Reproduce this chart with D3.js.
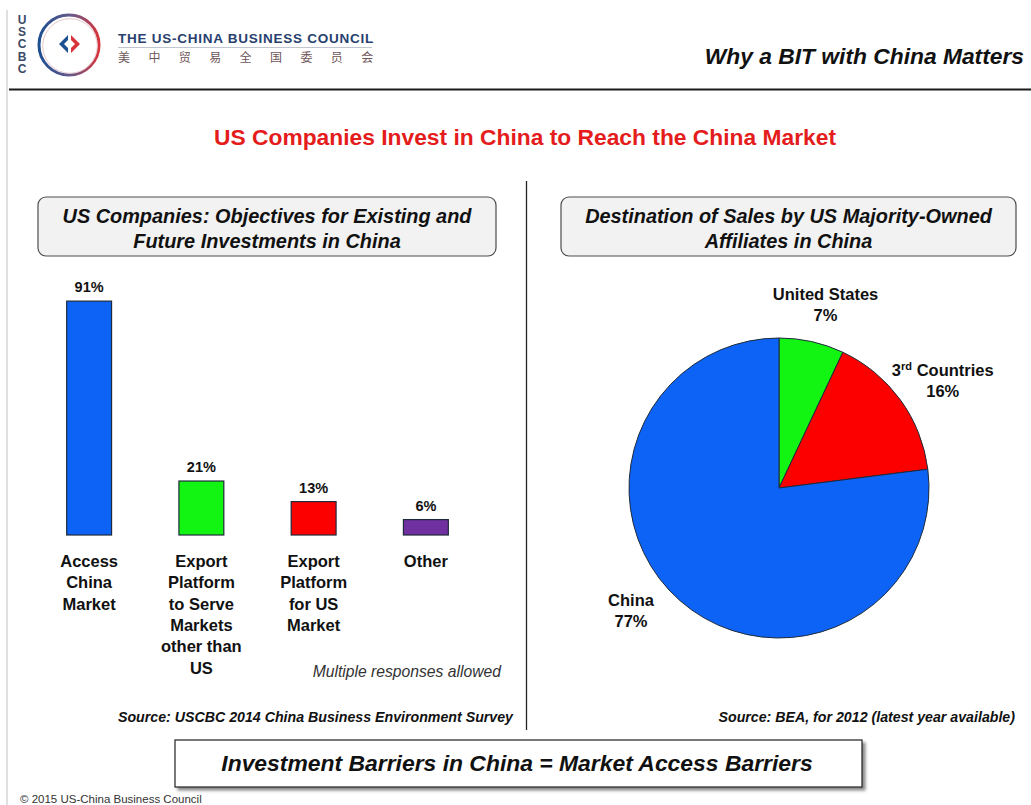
<!DOCTYPE html>
<html>
<head>
<meta charset="utf-8">
<script src="https://cdn.jsdelivr.net/npm/d3@7"></script>
<style>
  html, body { margin: 0; padding: 0; background: #fff; }
  svg { display: block; font-family: "Liberation Sans", Arial, sans-serif; }
</style>
</head>
<body>
<svg id="chart" width="1031" height="805"></svg>
<script>
// Survey objectives (bar chart)
const objectives = ["Access China Market", "Export Platform to Serve Markets other than US", "Export Platform for US Market", "Other"];
const objectiveLines = [
  ["Access", "China", "Market"],
  ["Export", "Platform", "to Serve", "Markets", "other than", "US"],
  ["Export", "Platform", "for US", "Market"],
  ["Other"]
];
const objectiveShares = [91, 21, 13, 6];
const objectiveColors = ["#0d63f5", "#12f512", "#fc0000", "#7030a0"];

// Sales destination (pie chart)
const destinations = ["United States", "3rd Countries", "China"];
const destinationShares = [7, 16, 77];
const destinationColors = ["#12f512", "#fc0000", "#0d63f5"];

const svg = d3.select("#chart");

// ---------- header ----------
const defs = svg.append("defs");
const ringGrad = defs.append("linearGradient").attr("id", "ring").attr("x1", "0").attr("x2", "1").attr("y1", "0").attr("y2", "0");
ringGrad.append("stop").attr("offset", "0%").attr("stop-color", "#1d4f91");
ringGrad.append("stop").attr("offset", "55%").attr("stop-color", "#6a5a8a");
ringGrad.append("stop").attr("offset", "100%").attr("stop-color", "#d8333a");
const shadow = defs.append("filter").attr("id", "shadow").attr("x", "-5%").attr("y", "-20%").attr("width", "115%").attr("height", "160%");
shadow.append("feDropShadow").attr("dx", 3).attr("dy", 3).attr("stdDeviation", 1.5).attr("flood-color", "#000").attr("flood-opacity", 0.45);

svg.append("line").attr("x1", 7).attr("x2", 7).attr("y1", 10).attr("y2", 805)
  .attr("stroke", "#d6d6d6").attr("stroke-width", 1.5);

"USCBC".split("").forEach((ch, i) => {
  svg.append("text").attr("x", 22).attr("y", 24 + i * 12.2).attr("text-anchor", "middle")
    .attr("font-size", 12).attr("font-weight", "bold").attr("fill", "#3b4a66").text(ch);
});
svg.append("circle").attr("cx", 69).attr("cy", 45).attr("r", 30)
  .attr("fill", "none").attr("stroke", "url(#ring)").attr("stroke-width", 3);
svg.append("circle").attr("cx", 70).attr("cy", 46).attr("r", 27.3)
  .attr("fill", "none").attr("stroke", "#e6c9cc").attr("stroke-width", 1);
svg.append("path").attr("d", "M68,35 L59,44 L68,53 L68,48 L64,44 L68,40 Z").attr("fill", "#1d4f91");
svg.append("path").attr("d", "M71,35 L80,44 L71,53 L71,48 L75,44 L71,40 Z").attr("fill", "#d8333a");

svg.append("text").attr("x", 118).attr("y", 43).attr("font-size", 13.5).attr("font-weight", "bold")
  .attr("fill", "#27406e").attr("letter-spacing", 0.75).text("THE US-CHINA BUSINESS COUNCIL");
svg.append("line").attr("x1", 118).attr("x2", 372).attr("y1", 47.5).attr("y2", 47.5)
  .attr("stroke", "#b0b6c3").attr("stroke-width", 0.8);
"美中贸易全国委员会".split("").forEach((ch, i) => {
  svg.append("text").attr("x", 124 + i * 30.4).attr("y", 62).attr("text-anchor", "middle")
    .attr("font-family", "'Noto Sans CJK SC'").attr("font-size", 12).attr("fill", "#6e5558").text(ch);
});

svg.append("text").attr("x", 1024).attr("y", 64).attr("text-anchor", "end")
  .attr("font-size", 22.8).attr("font-weight", "bold").attr("font-style", "italic").attr("fill", "#111")
  .text("Why a BIT with China Matters");

svg.append("line").attr("x1", 9).attr("x2", 1031).attr("y1", 89.5).attr("y2", 89.5)
  .attr("stroke", "#1a1a1a").attr("stroke-width", 2);

svg.append("text").attr("x", 525).attr("y", 145).attr("text-anchor", "middle")
  .attr("font-size", 22.8).attr("font-weight", "bold").attr("fill", "#e41c1c")
  .text("US Companies Invest in China to Reach the China Market");

svg.append("line").attr("x1", 526.5).attr("x2", 526.5).attr("y1", 181).attr("y2", 730)
  .attr("stroke", "#222").attr("stroke-width", 1.3);

// ---------- panel title boxes ----------
function titleBox(x, w, lines) {
  svg.append("rect").attr("x", x).attr("y", 197).attr("width", w).attr("height", 59)
    .attr("rx", 8).attr("fill", "#f2f2f2").attr("stroke", "#4d4d4d").attr("stroke-width", 1.2);
  lines.forEach((t, i) => {
    svg.append("text").attr("x", x + w / 2).attr("y", 223 + i * 25).attr("text-anchor", "middle")
      .attr("font-size", 19.9).attr("font-weight", "bold").attr("font-style", "italic").attr("fill", "#111").text(t);
  });
}
titleBox(38, 458, ["US Companies: Objectives for Existing and", "Future Investments in China"]);
titleBox(561, 455, ["Destination of Sales by US Majority-Owned", "Affiliates in China"]);

// ---------- bar chart ----------
const baseline = 535;
const x = d3.scaleBand().domain(objectives).range([33, 482]).paddingInner(0.6).paddingOuter(0.3);
const y = d3.scaleLinear().domain([0, 100]).range([baseline, baseline - 257]);

const bars = svg.append("g");
bars.selectAll("rect").data(objectives).join("rect")
  .attr("x", d => x(d)).attr("width", x.bandwidth())
  .attr("y", (d, i) => y(objectiveShares[i]))
  .attr("height", (d, i) => baseline - y(objectiveShares[i]))
  .attr("fill", (d, i) => objectiveColors[i])
  .attr("stroke", "#1e2a3a").attr("stroke-width", 1.2);

bars.selectAll("text.val").data(objectives).join("text").attr("class", "val")
  .attr("x", d => x(d) + x.bandwidth() / 2)
  .attr("y", (d, i) => y(objectiveShares[i]) - 9)
  .attr("text-anchor", "middle").attr("font-size", 14.5).attr("font-weight", "bold").attr("fill", "#111")
  .text((d, i) => objectiveShares[i] + "%");

objectives.forEach((d, i) => {
  const t = svg.append("text").attr("text-anchor", "middle").attr("font-size", 16.5)
    .attr("font-weight", "bold").attr("fill", "#111");
  objectiveLines[i].forEach((line, j) => {
    t.append("tspan").attr("x", x(d) + x.bandwidth() / 2).attr("y", 567 + j * 21.3).text(line);
  });
});

svg.append("text").attr("x", 501).attr("y", 677).attr("text-anchor", "end")
  .attr("font-size", 15.7).attr("font-style", "italic").attr("fill", "#333").text("Multiple responses allowed");
svg.append("text").attr("x", 513).attr("y", 722).attr("text-anchor", "end")
  .attr("font-size", 14.2).attr("font-weight", "bold").attr("font-style", "italic").attr("fill", "#111")
  .text("Source: USCBC 2014 China Business Environment Survey");

// ---------- pie chart ----------
const cx = 779, cy = 488, r = 150;
const pie = d3.pie().sort(null).value(d => d)(destinationShares);
const arc = d3.arc().innerRadius(0).outerRadius(r);
const pg = svg.append("g").attr("transform", `translate(${cx},${cy})`);
pg.selectAll("path").data(pie).join("path")
  .attr("d", arc).attr("fill", (d, i) => destinationColors[i])
  .attr("stroke", "#1e2a3a").attr("stroke-width", 1);

// slice labels outside the pie
const labelArc = d3.arc().innerRadius(r + 45).outerRadius(r + 45);
const labelOffsets = [[4, 12], [6, 13], [-19, -18]];
pie.forEach((p, i) => {
  const [lx, ly] = labelArc.centroid(p);
  const t = svg.append("text").attr("text-anchor", "middle").attr("font-size", 16.5)
    .attr("font-weight", "bold").attr("fill", "#111");
  const px = cx + lx + labelOffsets[i][0];
  const py = cy + ly + labelOffsets[i][1];
  const first = t.append("tspan").attr("x", px).attr("y", py - 10);
  if (destinations[i] === "3rd Countries") {
    first.append("tspan").text("3");
    first.append("tspan").attr("font-size", 11).attr("dy", -6).text("rd");
    first.append("tspan").attr("dy", 6).text(" Countries");
  } else {
    first.text(destinations[i]);
  }
  t.append("tspan").attr("x", px).attr("y", py + 11).text(destinationShares[i] + "%");
});

svg.append("text").attr("x", 1015).attr("y", 722).attr("text-anchor", "end")
  .attr("font-size", 14.2).attr("font-weight", "bold").attr("font-style", "italic").attr("fill", "#111")
  .text("Source: BEA, for 2012 (latest year available)");

// ---------- conclusion banner ----------
svg.append("rect").attr("x", 175).attr("y", 740).attr("width", 687).attr("height", 47)
  .attr("fill", "#fff").attr("stroke", "#222").attr("stroke-width", 1.2).attr("filter", "url(#shadow)");
svg.append("text").attr("x", 517).attr("y", 771).attr("text-anchor", "middle")
  .attr("font-size", 22.9).attr("font-weight", "bold").attr("font-style", "italic").attr("fill", "#111")
  .text("Investment Barriers in China = Market Access Barriers");

svg.append("text").attr("x", 20).attr("y", 803).attr("font-size", 11.5).attr("fill", "#333")
  .text("© 2015 US-China Business Council");
</script>
</body>
</html>
